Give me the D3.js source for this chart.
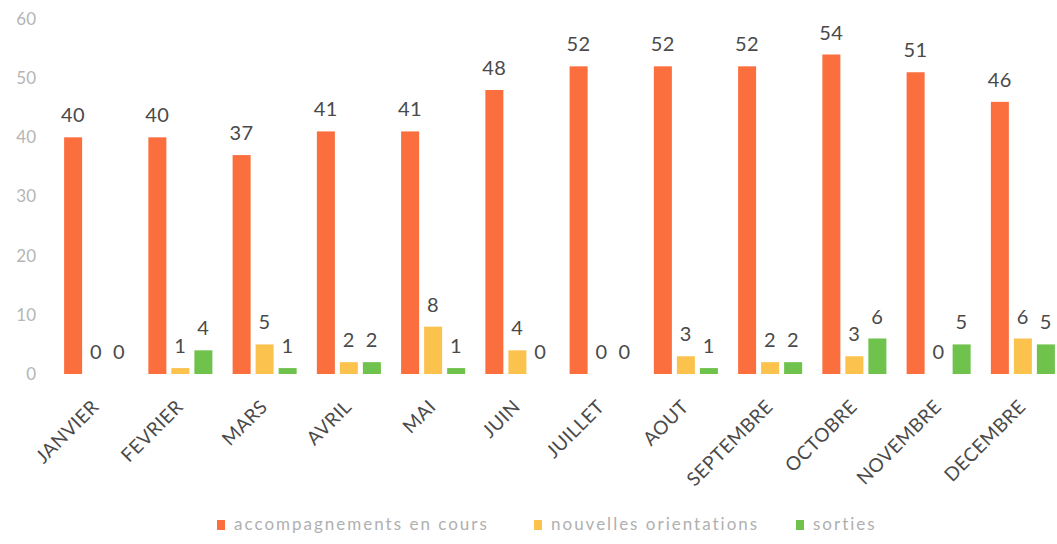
<!DOCTYPE html>
<html>
<head>
<meta charset="utf-8">
<script src="https://cdn.jsdelivr.net/npm/d3@7"></script>
<style>
  body { margin: 0; background: #fff; }
  svg { display: block; font-family: Lato, "Open Sans", sans-serif; }
</style>
</head>
<body>
<svg id="chart" width="1057" height="544"></svg>
<script>
const months = ['JANVIER', 'FEVRIER', 'MARS', 'AVRIL', 'MAI', 'JUIN',
  'JUILLET', 'AOUT', 'SEPTEMBRE', 'OCTOBRE', 'NOVEMBRE', 'DECEMBRE'];
const seriesNames = ['accompagnements en cours', 'nouvelles orientations', 'sorties'];
const accompagnements = [40, 40, 37, 41, 41, 48, 52, 52, 52, 54, 51, 46];
const orientations = [0, 1, 5, 2, 8, 4, 0, 3, 2, 3, 0, 6];
const sorties = [0, 4, 1, 2, 1, 0, 0, 1, 2, 6, 5, 5];
const yTicks = [0, 10, 20, 30, 40, 50, 60];

const colors = ['#fb6f3f', '#fcc24e', '#6fc24c'];
const series = [accompagnements, orientations, sorties];

const svg = d3.select('#chart');

const y = d3.scaleLinear().domain([0, 60]).range([374, 19]);

const x = d3.scaleBand()
  .domain(months)
  .range([54, 1065])
  .paddingInner(0.24)
  .paddingOuter(0.12);

const xs = d3.scaleBand()
  .domain(d3.range(3))
  .range([0, x.bandwidth()])
  .paddingInner(0.217);

// y axis labels (no line)
const yAxis = svg.append('g')
  .attr('transform', 'translate(36,0)')
  .call(d3.axisLeft(y).tickValues(yTicks).tickSize(0).tickPadding(0));
yAxis.select('.domain').remove();
yAxis.selectAll('text')
  .attr('font-size', 17)
  .attr('font-family', 'Lato, "Open Sans", sans-serif')
  .attr('fill', '#b5b5b5');

// bars
const groups = svg.append('g').selectAll('g')
  .data(months)
  .join('g')
  .attr('transform', (d) => `translate(${x(d)},0)`);

groups.each(function (m, i) {
  const g = d3.select(this);
  series.forEach((vals, s) => {
    const v = vals[i];
    g.append('rect')
      .attr('x', xs(s))
      .attr('y', y(v))
      .attr('width', xs.bandwidth())
      .attr('height', y(0) - y(v))
      .attr('fill', colors[s]);
    g.append('text')
      .attr('x', xs(s) + xs.bandwidth() / 2)
      .attr('y', y(v) - 15)
      .attr('text-anchor', 'middle')
      .attr('font-size', 20)
      .attr('letter-spacing', 0.5)
      .attr('fill', '#4a4a4a')
      .text(v);
  });
});

// x axis labels, rotated
const xAxis = svg.append('g')
  .attr('transform', `translate(0,${y(0)})`)
  .call(d3.axisBottom(x).tickSize(0).tickPadding(0));
xAxis.select('.domain').remove();
xAxis.selectAll('text')
  .attr('font-size', 19)
  .attr('letter-spacing', 0.5)
  .attr('font-family', 'Lato, "Open Sans", sans-serif')
  .attr('fill', '#4a4a4a')
  .attr('text-anchor', 'end')
  .attr('dy', null)
  .attr('transform', 'translate(4,34) rotate(-45)');

// legend
const legendX = [217, 534, 796];
const legend = svg.append('g').selectAll('g')
  .data(seriesNames)
  .join('g')
  .attr('transform', (d, i) => `translate(${legendX[i]},525)`);
legend.append('rect')
  .attr('x', 0).attr('y', -5)
  .attr('width', 8).attr('height', 10)
  .attr('fill', (d, i) => colors[i]);
legend.append('text')
  .attr('x', 17).attr('y', 5)
  .attr('font-size', 17)
  .attr('letter-spacing', 2)
  .attr('fill', '#b0b0b0')
  .text((d) => d);
</script>
</body>
</html>
